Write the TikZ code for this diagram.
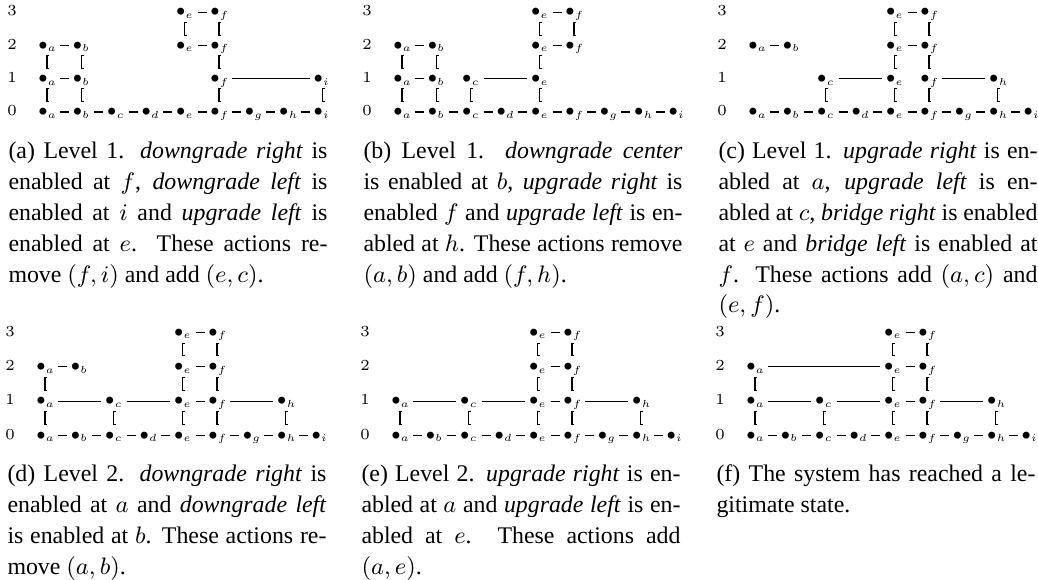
\RequirePackage{fix-cm}
\documentclass[tikz,border=0pt]{standalone}
\usepackage{fontspec}
\newfontfamily\tms{Liberation Serif}
\DeclareMathSizes{6}{6}{4}{3}
\usetikzlibrary{calc}
\newcommand\jl[1]{\hbox to \hsize{#1}}
\newcommand\capt[1]{\vtop{\tms\fontsize{9.3}{12}\selectfont\hsize=124.4pt #1}}
\newcommand\nd[3]{\node[vn] (\pp#1#3) at ({#2*34.4-3.85},{-#3*\rowh}) {\makebox[6.9pt][l]{$\bullet_{#1}$}};}
\newcommand\hh[1]{\foreach \p/\q in {#1}{\draw[hl] (\pp\p) -- (\pp\q);}}
\newcommand\vv[1]{\foreach \p/\q in {#1}{\draw[vb] (\pp\p) to (\pp\q);}}
\newcommand\baserow{%
  \foreach \l [count=\i from 0] in {a,b,c,d,e,f,g,h,i}{\node[vn] (\pp\l0) at ({\i*34.4-3.85},0) {\makebox[6.9pt][l]{$\bullet_{\l}$}};}%
  \foreach \p/\q in {a/b,b/c,c/d,d/e,e/f,f/g,g/h,h/i}{\draw[hl] (\pp\p0) -- (\pp\q0);}%
  \foreach \r in {0,1,2,3}{\node[lab] (\pp L\r) at (-30,{-\r*\rowh}) {\r};}%
}
\begin{document}
\begin{tikzpicture}[x=0.39pt,y=-0.39pt,
  vn/.style={inner sep=0pt, outer sep=0pt, text height=3pt, text depth=0pt, anchor=west, font=\fontsize{6}{7}\selectfont},
  lab/.style={inner sep=0pt, text height=3pt, text depth=0pt, font=\fontsize{6}{7}\selectfont},
  hl/.style={line width=0.4pt, shorten <=1.6pt, shorten >=1.4pt},
  vb/.style={line width=0.4pt, to path={let \p1=(\tikztostart), \p2=(\tikztotarget) in
     ({\x1+0.9pt},{(\y1+\y2)/2+2.5pt}) -- (\x1,{(\y1+\y2)/2+2.5pt}) -- (\x1,{(\y1+\y2)/2-2.5pt}) -- ({\x1+0.9pt},{(\y1+\y2)/2-2.5pt})}},
  captxt/.style={anchor=base west, inner sep=0pt}]
\useasboundingbox (0,0) rectangle (1038,580);

% (a)
\begin{scope}[shift={(42,112)}]\def\pp{A}\def\rowh{33.3}
\baserow
\nd e43 \nd f53 \nd a02 \nd b12 \nd e42 \nd f52 \nd a01 \nd b11 \nd f51 \nd i81
\hh{e3/f3,a2/b2,e2/f2,a1/b1,f1/i1}
\vv{e3/e2,f3/f2,f2/f1,a2/a1,b2/b1,a1/a0,b1/b0,f1/f0,i1/i0}
\end{scope}

% (b)
\begin{scope}[shift={(397,112)}]\def\pp{B}\def\rowh{33.3}
\baserow
\nd e43 \nd f53 \nd a02 \nd b12 \nd e42 \nd f52 \nd a01 \nd b11 \nd c21 \nd e41
\hh{e3/f3,a2/b2,e2/f2,a1/b1,c1/e1}
\vv{e3/e2,f3/f2,a2/a1,b2/b1,e2/e1,a1/a0,b1/b0,c1/c0,e1/e0}
\end{scope}

% (c)
\begin{scope}[shift={(752,112)}]\def\pp{C}\def\rowh{33.3}
\baserow
\nd e43 \nd f53 \nd a02 \nd b12 \nd e42 \nd f52 \nd c21 \nd e41 \nd f51 \nd h71
\hh{e3/f3,a2/b2,e2/f2,c1/e1,f1/h1}
\vv{e3/e2,f3/f2,e2/e1,f2/f1,c1/c0,e1/e0,f1/f0,h1/h0}
\end{scope}

% (d)
\begin{scope}[shift={(40,435.5)}]\def\pp{D}\def\rowh{34.4}
\baserow
\nd e43 \nd f53 \nd a02 \nd b12 \nd e42 \nd f52 \nd a01 \nd c21 \nd e41 \nd f51 \nd h71
\hh{e3/f3,a2/b2,e2/f2,a1/c1,c1/e1,e1/f1,f1/h1}
\vv{e3/e2,f3/f2,a2/a1,e2/e1,f2/f1,a1/a0,c1/c0,e1/e0,f1/f0,h1/h0}
\end{scope}

% (e)
\begin{scope}[shift={(395,435.5)}]\def\pp{E}\def\rowh{34.4}
\baserow
\nd e43 \nd f53 \nd e42 \nd f52 \nd a01 \nd c21 \nd e41 \nd f51 \nd h71
\hh{e3/f3,e2/f2,a1/c1,c1/e1,e1/f1,f1/h1}
\vv{e3/e2,f3/f2,e2/e1,f2/f1,a1/a0,c1/c0,e1/e0,f1/f0,h1/h0}
\end{scope}

% (f)
\begin{scope}[shift={(750,435.5)}]\def\pp{F}\def\rowh{34.4}
\baserow
\nd e43 \nd f53 \nd a02 \nd e42 \nd f52 \nd a01 \nd c21 \nd e41 \nd f51 \nd h71
\hh{e3/f3,a2/e2,e2/f2,a1/c1,c1/e1,e1/f1,f1/h1}
\vv{e3/e2,f3/f2,a2/a1,e2/e1,f2/f1,a1/a0,c1/c0,e1/e0,f1/f0,h1/h0}
\end{scope}

% captions
\node[captxt] (capA) at (8,159) {\capt{%
\jl{(a) Level 1. \emph{downgrade right} is}
\jl{enabled at $f$, \emph{downgrade left} is}
\jl{enabled at $i$ and \emph{upgrade left} is}
\jl{enabled at $e$. These actions re-}
\hbox{move $(f,i)$ and add $(e,c)$.}}};
\node[captxt] (capB) at (363,159) {\capt{%
\jl{(b) Level 1. \emph{downgrade center}}
\jl{is enabled at $b$, \emph{upgrade right} is}
\jl{enabled $f$ and \emph{upgrade left} is en-}
\jl{abled at $h$. These actions remove}
\hbox{$(a,b)$ and add $(f,h)$.}}};
\node[captxt] (capC) at (718,159) {\capt{%
\jl{(c) Level 1. \emph{upgrade right} is en-}
\jl{abled at $a$, \emph{upgrade left} is en-}
\jl{abled at $c$, \emph{bridge right} is enabled}
\jl{at $e$ and \emph{bridge left} is enabled at}
\jl{$f$. These actions add $(a,c)$ and}
\hbox{$(e,f)$.}}};
\node[captxt] (capD) at (7,482) {\capt{%
\jl{(d) Level 2. \emph{downgrade right} is}
\jl{enabled at $a$ and \emph{downgrade left}}
\jl{is enabled at $b$. These actions re-}
\hbox{move $(a,b)$.}}};
\node[captxt] (capE) at (361,482) {\capt{%
\jl{(e) Level 2. \emph{upgrade right} is en-}
\jl{abled at $a$ and \emph{upgrade left} is en-}
\jl{abled at $e$. These actions add}
\hbox{$(a,e)$.}}};
\node[captxt] (capF) at (716,482) {\capt{%
\jl{(f) The system has reached a le-}
\hbox{gitimate state.}}};
\end{tikzpicture}
\end{document}
